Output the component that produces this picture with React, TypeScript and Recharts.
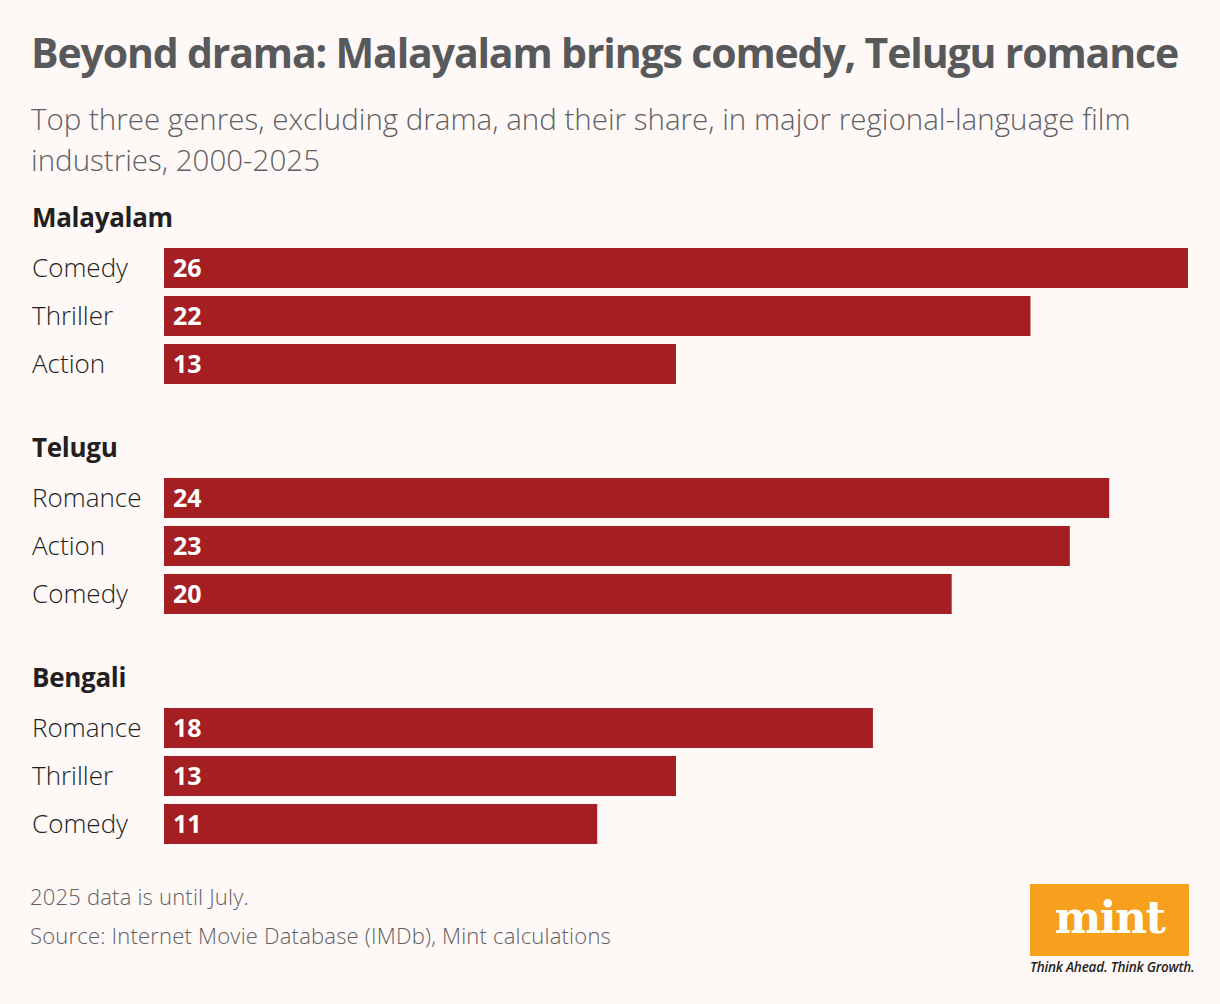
import { BarChart, Bar, XAxis, YAxis, LabelList } from 'recharts'

// Genre share (%) per film industry, 2000-2025, drama excluded
const industries = ['Malayalam', 'Telugu', 'Bengali']
const malayalamGenres = ['Comedy', 'Thriller', 'Action']
const malayalamShare = [26, 22, 13]
const teluguGenres = ['Romance', 'Action', 'Comedy']
const teluguShare = [24, 23, 20]
const bengaliGenres = ['Romance', 'Thriller', 'Comedy']
const bengaliShare = [18, 13, 11]

const maxShare = 26

const colors = {
  bg: '#fef8f7',
  bar: '#a51e22',
  title: '#58595b',
  subtitle: '#5f6063',
  label: '#231f20',
  note: '#5f6063',
  logo: '#f7a01e',
}

const font = '"Open Sans", "Noto Sans", sans-serif'

const groups = [
  { name: industries[0], genres: malayalamGenres, share: malayalamShare },
  { name: industries[1], genres: teluguGenres, share: teluguShare },
  { name: industries[2], genres: bengaliGenres, share: bengaliShare },
]

function GenreTick({ y, payload }: any) {
  return (
    <text x={0} y={y} dy={9} textAnchor="start" fill={colors.label}
      style={{ fontFamily: font, fontSize: 26, fontWeight: 300 }}>
      {payload.value}
    </text>
  )
}

function IndustryBlock({ name, genres, share, top }: any) {
  const rows = genres.map((g: string, i: number) => ({ genre: g, share: share[i] }))
  return (
    <div style={{ position: 'absolute', left: 32, top: top - 44 }}>
      <div style={{ fontFamily: font, fontSize: 26, fontWeight: 700, color: colors.label, lineHeight: '34px', height: 44, letterSpacing: -0.3 }}>
        {name}
      </div>
      <BarChart width={1156} height={144} data={rows} layout="vertical"
        margin={{ top: 0, right: 0, bottom: 0, left: 0 }} barCategoryGap={4}>
        <XAxis type="number" domain={[0, maxShare]} hide />
        <YAxis type="category" dataKey="genre" width={132} axisLine={false} tickLine={false}
          tick={<GenreTick />} interval={0} />
        <Bar dataKey="share" fill={colors.bar} isAnimationActive={false}>
          <LabelList dataKey="share" position="insideLeft" offset={9} fill="#ffffff"
            style={{ fontFamily: font, fontSize: 25, fontWeight: 700 }} />
        </Bar>
      </BarChart>
    </div>
  )
}

export default function App() {
  return (
    <div style={{ position: 'relative', width: 1220, height: 1004, background: colors.bg, overflow: 'hidden' }}>
      <style>{'body { margin: 0; }'}</style>
      <div style={{ position: 'absolute', left: 31, top: 24, fontFamily: font, fontSize: 41, fontWeight: 700, color: colors.title, letterSpacing: -1.15, whiteSpace: 'nowrap' }}>
        Beyond drama: Malayalam brings comedy, Telugu romance
      </div>
      <div style={{ position: 'absolute', left: 31, top: 98, width: 1170, fontFamily: font, fontSize: 29.5, fontWeight: 300, color: colors.subtitle, lineHeight: '41px' }}>
        Top three genres, excluding drama, and their share, in major regional-language film industries, 2000-2025
      </div>

      {groups.map((g, i) => (
        <IndustryBlock key={g.name} name={g.name} genres={g.genres} share={g.share} top={244 + i * 230} />
      ))}

      <div style={{ position: 'absolute', left: 30, top: 877, fontFamily: font, fontSize: 22, fontWeight: 300, color: colors.note, lineHeight: '39px', letterSpacing: 0.2 }}>
        <div>2025 data is until July.</div>
        <div>Source: Internet Movie Database (IMDb), Mint calculations</div>
      </div>

      <div style={{ position: 'absolute', left: 1030, top: 884, width: 159, height: 72, background: colors.logo, display: 'flex', alignItems: 'center', justifyContent: 'center' }}>
        <span style={{ fontFamily: '"DejaVu Serif", serif', fontSize: 44, fontWeight: 700, color: '#ffffff', letterSpacing: -1.5, marginTop: -6 }}>mint</span>
      </div>
      <div style={{ position: 'absolute', left: 1030, top: 958, width: 162, fontFamily: font, fontSize: 13.5, fontStyle: 'italic', fontWeight: 600, color: '#231f20', whiteSpace: 'nowrap', letterSpacing: -0.2 }}>
        Think Ahead. Think Growth.
      </div>
    </div>
  )
}
